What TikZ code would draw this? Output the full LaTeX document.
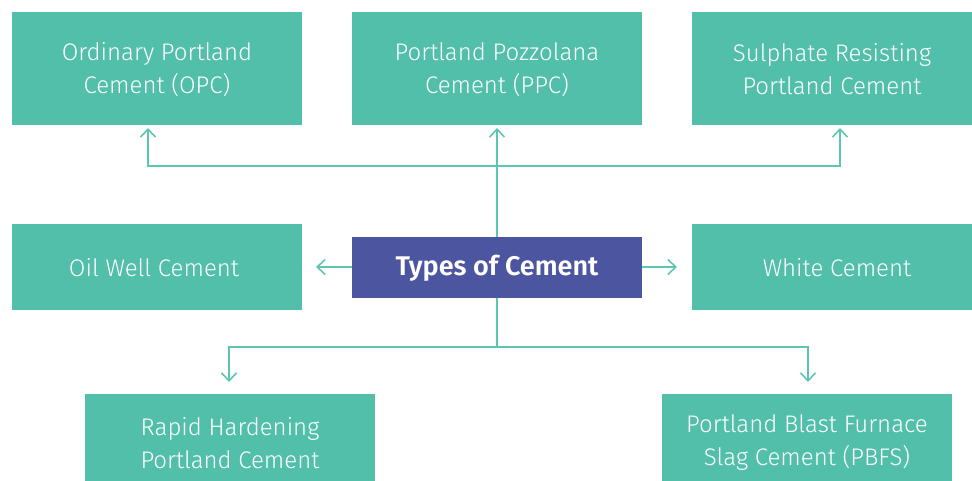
\documentclass[tikz,border=0pt]{standalone}
\usepackage{fontspec}
\setmainfont{Fira Sans}[UprightFont=* Light, BoldFont=* SemiBold]
\usetikzlibrary{arrows.meta}
\definecolor{teal}{HTML}{52BFAB}
\definecolor{tealline}{HTML}{5CC6B2}
\definecolor{indigo}{HTML}{4B55A0}
\tikzset{
  x=1pt, y=-1pt,
  typebox/.style={fill=none, draw=none, text=white, align=center,
    font=\fontsize{24}{33}\selectfont},
  hubbox/.style={fill=none, draw=none, text=white,
    font=\fontsize{27}{30}\selectfont\bfseries},
  link/.style={draw=tealline, line width=1.6pt,
    -{Straight Barb[length=8pt,width=15pt,line width=1.6pt]}}
}
\begin{document}
\begin{tikzpicture}
\useasboundingbox (0,0) rectangle (972,481);
% boxes: filled by corners, text centred inside
\fill[teal] (12,12) rectangle (302,125);
\node[typebox] (opc) at (157,69.5) {Ordinary Portland\\Cement (OPC)};
\coordinate (opcB) at (148,128);
\fill[teal] (352,12) rectangle (642,125);
\node[typebox] (ppc) at (497,69.5) {Portland Pozzolana\\Cement (PPC)};
\coordinate (ppcB) at (497,128);
\fill[teal] (692,12) rectangle (972,125);
\node[typebox] (srpc) at (832,69.5) {Sulphate Resisting\\Portland Cement};
\coordinate (srpcB) at (840,128);
\fill[teal] (12,224) rectangle (302,310);
\node[typebox] (oil) at (154,268) {Oil Well Cement};
\coordinate (oilR) at (316,267);
\fill[indigo] (352,237) rectangle (642,298);
\node[hubbox] (hub) at (497,268.5) {Types of Cement};
\coordinate (hubT) at (497,237);
\coordinate (hubB) at (497,298);
\coordinate (hubL) at (352,267);
\coordinate (hubR) at (642,267);
\coordinate (topbus) at (497,166);
\coordinate (lowbus) at (497,347);
\fill[teal] (692,224) rectangle (972,310);
\node[typebox] (white) at (837,268) {White Cement};
\coordinate (whiteL) at (677,267);
\fill[teal] (85,394) rectangle (375,481);
\node[typebox] (rhpc) at (230,443) {Rapid Hardening\\Portland Cement};
\coordinate (rhpcT) at (229,382);
\fill[teal] (662,394) rectangle (952,481);
\node[typebox] (pbfs) at (807,443) {Portland Blast Furnace\\Slag Cement (PBFS)};
\coordinate (pbfsT) at (808,382);
% connectors
\draw[link] (hubT) -- (ppcB);
\draw[link] (topbus) -| (opcB);
\draw[link] (topbus) -| (srpcB);
\draw[link] (hubL) -- (oilR);
\draw[link] (hubR) -- (whiteL);
\draw[tealline, line width=1.6pt] (hubB) -- (lowbus);
\draw[link] (lowbus) -| (rhpcT);
\draw[link] (lowbus) -| (pbfsT);
\end{tikzpicture}
\end{document}
